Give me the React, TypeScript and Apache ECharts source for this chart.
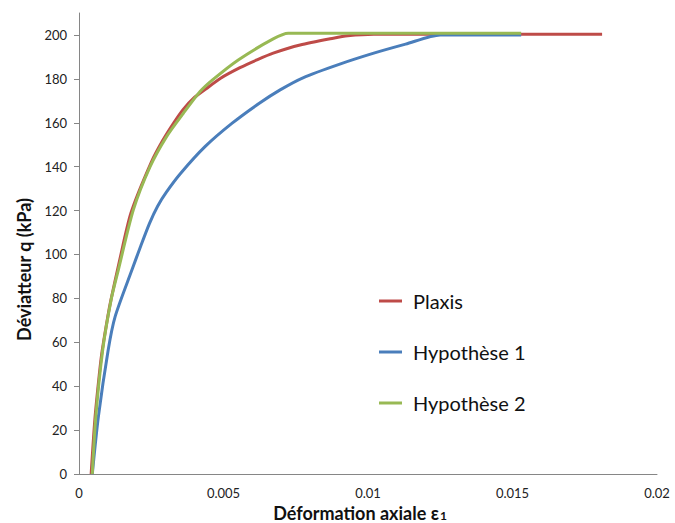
import React, { useEffect, useRef } from "react";
import * as echarts from "echarts";

const seriesNames = ["Plaxis", "Hypothèse 1", "Hypothèse 2"];
const seriesColors = ["#BE4B48", "#4A7EBB", "#98B954"];

const plaxisX = [0.00042, 0.00055, 0.0007, 0.0008, 0.001, 0.0011, 0.0014, 0.0018, 0.0025, 0.0029, 0.00328, 0.0036, 0.00395, 0.0044, 0.0049, 0.00557, 0.00615, 0.00672, 0.00765, 0.0088, 0.0093, 0.0102, 0.011, 0.0181];
const plaxisY = [0, 25, 45, 56, 72, 79, 97, 119, 142, 152, 160, 166, 171, 175.5, 180.3, 185.1, 188.6, 191.7, 195.4, 198.5, 199.6, 200.3, 200.3, 200.3];

const hyp1X = [0.00046, 0.00067, 0.00101, 0.00125, 0.00183, 0.00214, 0.00244, 0.00272, 0.00303, 0.00352, 0.00436, 0.0053, 0.00624, 0.00696, 0.00775, 0.009, 0.0102, 0.0113, 0.0125, 0.0153];
const hyp1Y = [0, 26, 56.5, 71.7, 92.9, 104, 114.2, 122, 128.5, 137, 149.1, 159.8, 168.9, 175, 180.5, 186.6, 191.7, 195.8, 200, 200];

const hyp2X = [0.00046, 0.00058, 0.00082, 0.00111, 0.00136, 0.00188, 0.00246, 0.00303, 0.00361, 0.00419, 0.00462, 0.00551, 0.00672, 0.00724, 0.0153];
const hyp2Y = [0, 26, 56.5, 79.3, 92.9, 120.3, 140, 153.7, 164.3, 174.2, 179.5, 188.6, 198.2, 200.8, 200.8];

const yTicks = [0, 20, 40, 60, 80, 100, 120, 140, 160, 180, 200];
const xTicks = [0, 0.005, 0.01, 0.015, 0.02];

const zip = (xs: number[], ys: number[]) => xs.map((x, i) => [x, ys[i]]);

export default function App() {
  const ref = useRef<HTMLDivElement>(null);
  useEffect(() => {
    document.body.style.margin = "0";
    if (!ref.current) return;
    const chart = echarts.init(ref.current, undefined, { renderer: "svg" });
    const font = "Lato, 'Noto Sans', sans-serif";
    const datasets = [zip(plaxisX, plaxisY), zip(hyp1X, hyp1Y), zip(hyp2X, hyp2Y)];
    chart.setOption({
      animation: false,
      textStyle: { fontFamily: font },
      grid: { left: 79, right: 18, top: 13, bottom: 49, containLabel: false, outerBoundsMode: "none" },
      legend: {
        orient: "vertical",
        left: 374,
        top: 286,
        itemGap: 31,
        itemWidth: 23,
        itemHeight: 3,
        icon: "rect",
        data: seriesNames,
        textStyle: { fontSize: 20, color: "#111", fontFamily: font, padding: [0, 0, 0, 6] },
      },
      xAxis: {
        type: "value",
        min: xTicks[0],
        max: xTicks[xTicks.length - 1],
        interval: 0.005,
        name: "Déformation axiale {e|ε}{s|1}",
        nameLocation: "middle",
        nameGap: 26,
        nameTextStyle: {
          fontSize: 18,
          fontWeight: "bold",
          color: "#111",
          fontFamily: font,
          padding: [0, 16, 0, 0],
          rich: {
            e: { fontSize: 18, fontWeight: "bold", color: "#111", fontFamily: font },
            s: { fontSize: 12, fontWeight: "bold", color: "#111", fontFamily: font, verticalAlign: "bottom", padding: [4, 0, 0, 1] },
          },
        },
        axisLine: { show: true, lineStyle: { color: "#868686", width: 1 } },
        axisTick: { show: false },
        splitLine: { show: false },
        axisLabel: {
          color: "#222",
          fontSize: 13,
          margin: 12,
          customValues: xTicks,
          formatter: (v: number) => String(v),
        },
      },
      yAxis: {
        type: "value",
        min: 0,
        max: 210,
        interval: 20,
        name: "Déviatteur q (kPa)",
        nameLocation: "middle",
        nameGap: 46,
        nameRotate: 90,
        nameTextStyle: { fontSize: 18, fontWeight: "bold", color: "#111", fontFamily: font, padding: [0, 52, 0, 0] },
        axisLine: { show: true, lineStyle: { color: "#868686", width: 1 } },
        axisTick: { show: true, length: 5, inside: false, lineStyle: { color: "#868686" }, customValues: yTicks },
        splitLine: { show: false },
        axisLabel: { color: "#222", fontSize: 13, margin: 12, customValues: yTicks },
      },
      series: seriesNames.map((name, i) => ({
        name,
        type: "line",
        data: datasets[i],
        showSymbol: false,
        symbol: "none",
        smooth: 0.25,
        color: seriesColors[i],
        lineStyle: { width: 3, color: seriesColors[i] },
        z: 2 + i,
      })),
    });
    return () => chart.dispose();
  }, []);
  return <div ref={ref} style={{ width: 675, height: 523 }} />;
}
